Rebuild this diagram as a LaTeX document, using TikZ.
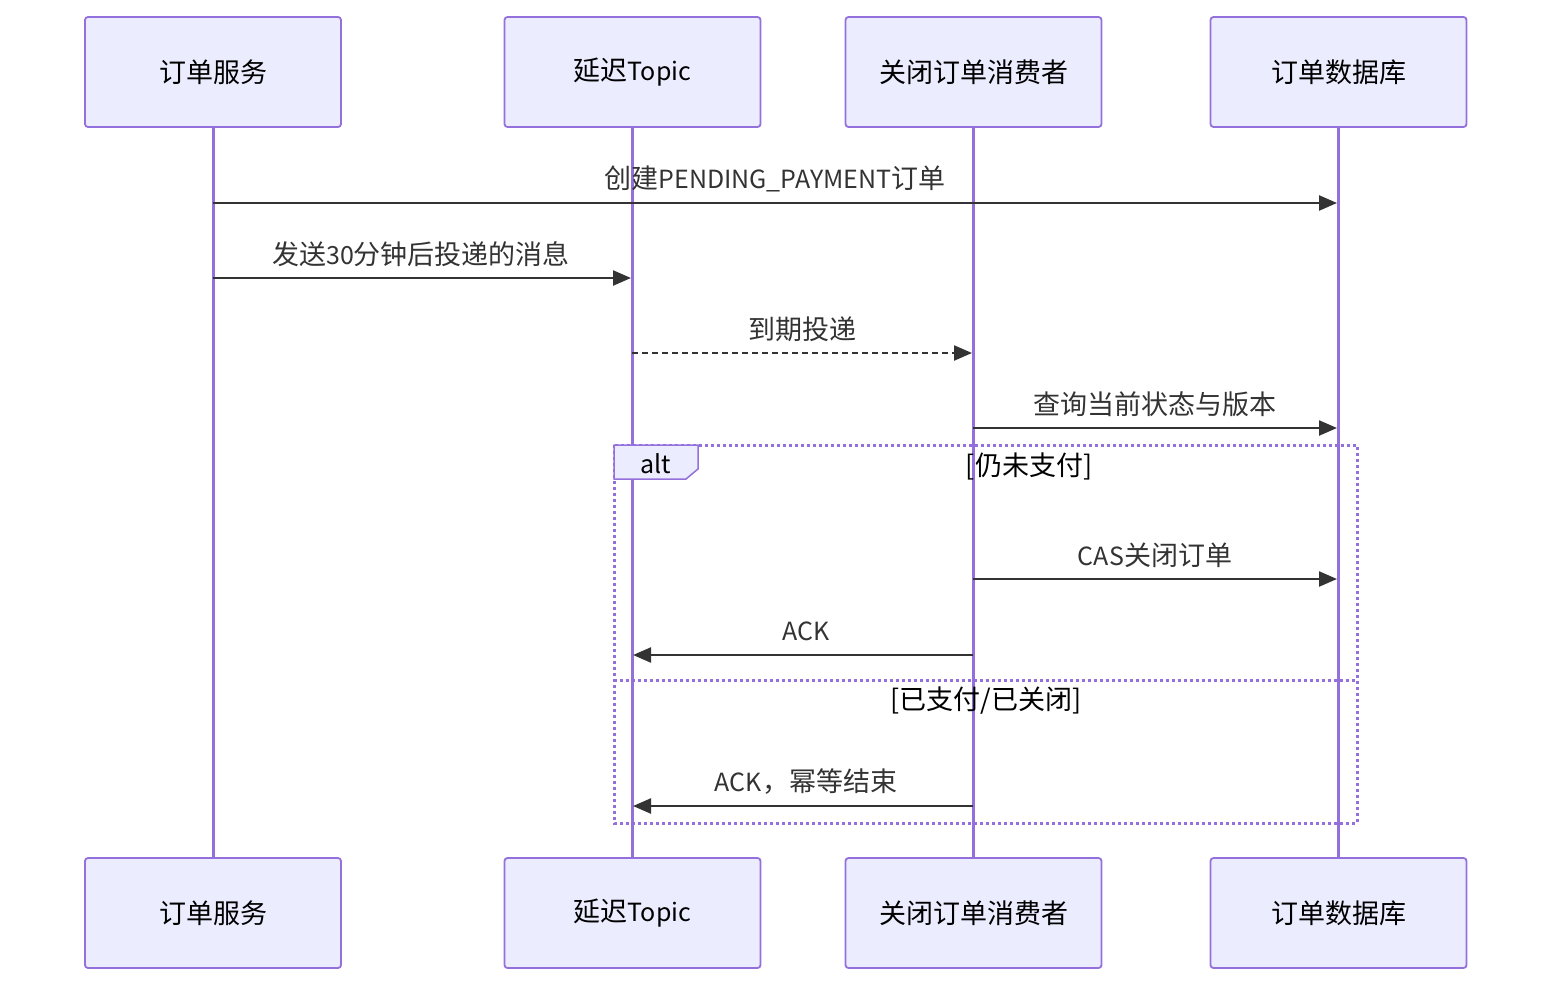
\documentclass[tikz,border=0pt]{standalone}
\usepackage{fontspec}
\setmainfont{Noto Sans CJK SC}
\usetikzlibrary{arrows.meta}
\definecolor{actfill}{HTML}{ECECFF}
\definecolor{actline}{HTML}{9370DB}
\definecolor{msg}{HTML}{333333}
\newcommand{\lat}[1]{{\fontsize{25}{30}\selectfont #1}}
\tikzset{
  actor/.style={draw=actline, fill=actfill, line width=1.8pt, rounded corners=3pt,
    minimum width=256pt, minimum height=110pt, inner sep=0pt,
    font=\fontsize{27}{30}\selectfont, text=black},
  life/.style={draw=actline, line width=3pt},
  msgline/.style={draw=msg, line width=2.3pt, -{Triangle[length=18pt,width=15pt]}},
  msglabel/.style={font=\fontsize{27}{30}\selectfont, text=msg, inner sep=0pt},
  framebox/.style={draw=actline, line width=3pt, dash pattern=on 3pt off 3pt},
  guard/.style={font=\fontsize{27}{30}\selectfont, text=black, inner sep=0pt},
}
\begin{document}
\begin{tikzpicture}[x=1pt,y=-1pt]
\useasboundingbox (0,0) rectangle (1568,998);
% actors top
\node[actor] (t1) at (213,72) {订单服务};
\node[actor] (t2) at (632.5,72) {延迟\lat{Topic}};
\node[actor] (t3) at (973.5,72) {关闭订单消费者};
\node[actor] (t4) at (1338.5,72) {订单数据库};
% actors bottom
\node[actor] (b1) at (213,913) {订单服务};
\node[actor] (b2) at (632.5,913) {延迟\lat{Topic}};
\node[actor] (b3) at (973.5,913) {关闭订单消费者};
\node[actor] (b4) at (1338.5,913) {订单数据库};
% lifelines
\draw[life] (t1.south) -- (b1.north);
\draw[life] (t2.south) -- (b2.north);
\draw[life] (t3.south) -- (b3.north);
\draw[life] (t4.south) -- (b4.north);
% alt frame
\coordinate (fA) at (614,445);
\coordinate (fB) at (1357,823);
\draw[framebox] (fA) rectangle (fB);
\coordinate (sA) at (614,680);
\coordinate (sB) at (1357,680);
\draw[framebox] (sA) -- (sB);
\path[draw=actline, fill=actfill, line width=1.5pt]
  (614,445) -- (698,445) -- (698,469) -- (686,479) -- (614,479) -- cycle;
\node[font=\fontsize{25}{30}\selectfont, text=black, inner sep=0pt] (altl) at (656,464) {alt};
\node[guard] (g1) at (1029,466) {[仍未支付]};
\node[guard] (g2) at (986,701) {[已支付/已关闭]};
% message anchors
\coordinate (m1a) at (213,203);  \coordinate (m1b) at (1337,203);
\coordinate (m2a) at (213,278);  \coordinate (m2b) at (631,278);
\coordinate (m3a) at (632,353);  \coordinate (m3b) at (972,353);
\coordinate (m4a) at (973,428);  \coordinate (m4b) at (1337,428);
\coordinate (m5a) at (973,579);  \coordinate (m5b) at (1337,579);
\coordinate (m6a) at (973,655);  \coordinate (m6b) at (633,655);
\coordinate (m7a) at (973,806);  \coordinate (m7b) at (633,806);
% messages
\draw[msgline] (m1a) -- (m1b);
\node[msglabel] (l1) at (775,179) {创建\lat{PENDING\_PAYMENT}订单};
\draw[msgline] (m2a) -- (m2b);
\node[msglabel] (l2) at (421,254) {发送\lat{30}分钟后投递的消息};
\draw[msgline, dash pattern=on 6pt off 4pt] (m3a) -- (m3b);
\node[msglabel] (l3) at (802,329) {到期投递};
\draw[msgline] (m4a) -- (m4b);
\node[msglabel] (l4) at (1155,404) {查询当前状态与版本};
\draw[msgline] (m5a) -- (m5b);
\node[msglabel] (l5) at (1155,555) {\lat{CAS}关闭订单};
\draw[msgline] (m6a) -- (m6b);
\node[msglabel] (l6) at (806,631) {\lat{ACK}};
\draw[msgline] (m7a) -- (m7b);
\node[msglabel] (l7) at (806,782) {\lat{ACK}，幂等结束};
\end{tikzpicture}
\end{document}
